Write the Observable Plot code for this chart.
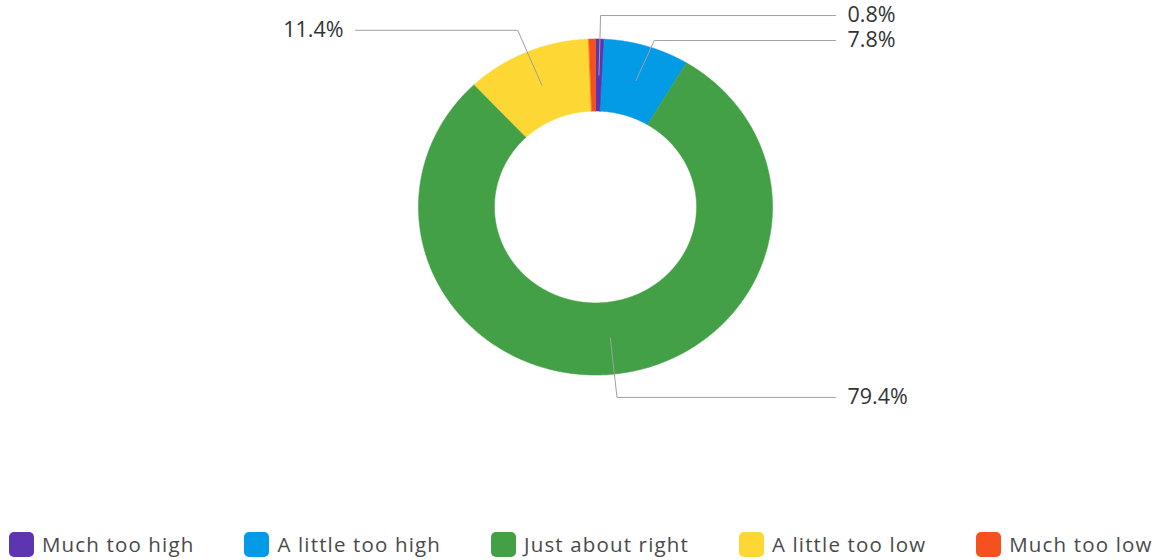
<!DOCTYPE html>
<html>
<head>
<meta charset="utf-8">
<script src="https://cdn.jsdelivr.net/npm/d3@7"></script>
<script src="https://cdn.jsdelivr.net/npm/@observablehq/plot@0.6"></script>
<style>
  html, body { margin: 0; padding: 0; background: #fff; }
  body { width: 1156px; height: 560px; overflow: hidden; font-family: "Open Sans", "Noto Sans", sans-serif; }
  #chart svg { display: block; }
  #legend { display: flex; align-items: center; padding-left: 9px; height: 28px; }
  .item { display: flex; align-items: center; margin-right: 50px; font-size: 20.5px; letter-spacing: 1.15px; color: #4a4a4a; white-space: nowrap; }
  .sw { width: 25px; height: 25px; border-radius: 5px; margin-right: 8px; flex: none; }
</style>
</head>
<body>
<div id="chart"></div>
<div id="legend"></div>
<script>
// ---- data ----
const categories = ["Much too high", "A little too high", "Just about right", "A little too low", "Much too low"];
const shares = [0.8, 7.8, 79.4, 11.4, 0.6];
const colors = ["#5E35B1", "#039BE5", "#43A047", "#FDD835", "#F4511E"];

// ---- layout ----
const W = 1156, H = 530;
const CX = 595, CY = 206.5, RX = 177, RY = 168;
const INNER = 0.571;           // inner radius as a fraction of outer
const MID = (1 + INNER) / 2;   // leader start radius
const ELBOW = 1.14;            // leader elbow radius
const LINE_END = 240, TEXT_X = 252, MIN_GAP = 25; // px

const arcs = d3.pie().sort(null).value(d => d)(shares);

// ring slices as closed polygons in unit space
const slicePts = [];
arcs.forEach((a, i) => {
  const n = Math.max(2, Math.ceil((a.endAngle - a.startAngle) / 0.005));
  const outer = [], inner = [];
  for (let k = 0; k <= n; k++) {
    const t = a.startAngle + (a.endAngle - a.startAngle) * k / n;
    outer.push({cat: categories[i], x: Math.sin(t), y: Math.cos(t)});
    inner.push({cat: categories[i], x: INNER * Math.sin(t), y: INNER * Math.cos(t)});
  }
  slicePts.push(...outer, ...inner.reverse());
});

// labels with leader lines
let labels = arcs.map((a, i) => {
  const m = (a.startAngle + a.endAngle) / 2;
  return {
    cat: categories[i], value: shares[i], side: Math.sin(m) >= 0 ? 1 : -1,
    sx: MID * Math.sin(m), sy: MID * Math.cos(m),
    ex: ELBOW * Math.sin(m), ey: ELBOW * Math.cos(m)
  };
}).filter(d => d.value >= 0.7);
// resolve vertical collisions per side (unit y is upward)
for (const side of [1, -1]) {
  const group = labels.filter(d => d.side === side).sort((a, b) => b.ey - a.ey);
  for (let k = 1; k < group.length; k++) {
    const maxY = group[k - 1].ey - MIN_GAP / RY;
    if (group[k].ey > maxY) group[k].ey = maxY;
  }
}
const leaderPts = labels.flatMap(d => [
  {cat: d.cat, x: d.sx, y: d.sy},
  {cat: d.cat, x: d.ex, y: d.ey},
  {cat: d.cat, x: d.side * LINE_END / RX, y: d.ey}
]);
const fmt = d => d.value.toFixed(1) + "%";

const chart = Plot.plot({
  width: W, height: H, margin: 0,
  x: {domain: [-1, 1], range: [CX - RX, CX + RX], axis: null},
  y: {domain: [-1, 1], range: [CY + RY, CY - RY], axis: null},
  color: {domain: categories, range: colors},
  style: {fontFamily: "'Open Sans', 'Noto Sans', sans-serif", background: "#fff"},
  marks: [
    Plot.line(slicePts, {x: "x", y: "y", z: "cat", fill: "cat", stroke: "cat", strokeWidth: 0.6, curve: "linear-closed"}),
    Plot.line(leaderPts, {x: "x", y: "y", z: "cat", stroke: "#a0a0a0", strokeWidth: 1}),
    Plot.text(labels.filter(d => d.side > 0), {
      x: d => TEXT_X / RX, y: "ey", text: fmt,
      textAnchor: "start", fontSize: 21.5, fill: "#333"
    }),
    Plot.text(labels.filter(d => d.side < 0), {
      x: d => -TEXT_X / RX, y: "ey", text: fmt,
      textAnchor: "end", fontSize: 21.5, fill: "#333"
    })
  ]
});
document.getElementById("chart").appendChild(chart);

// legend
const legend = document.getElementById("legend");
categories.forEach((c, i) => {
  const item = document.createElement("div");
  item.className = "item";
  const sw = document.createElement("div");
  sw.className = "sw";
  sw.style.background = colors[i];
  const t = document.createElement("span");
  t.textContent = c;
  item.append(sw, t);
  legend.appendChild(item);
});
</script>
</body>
</html>
